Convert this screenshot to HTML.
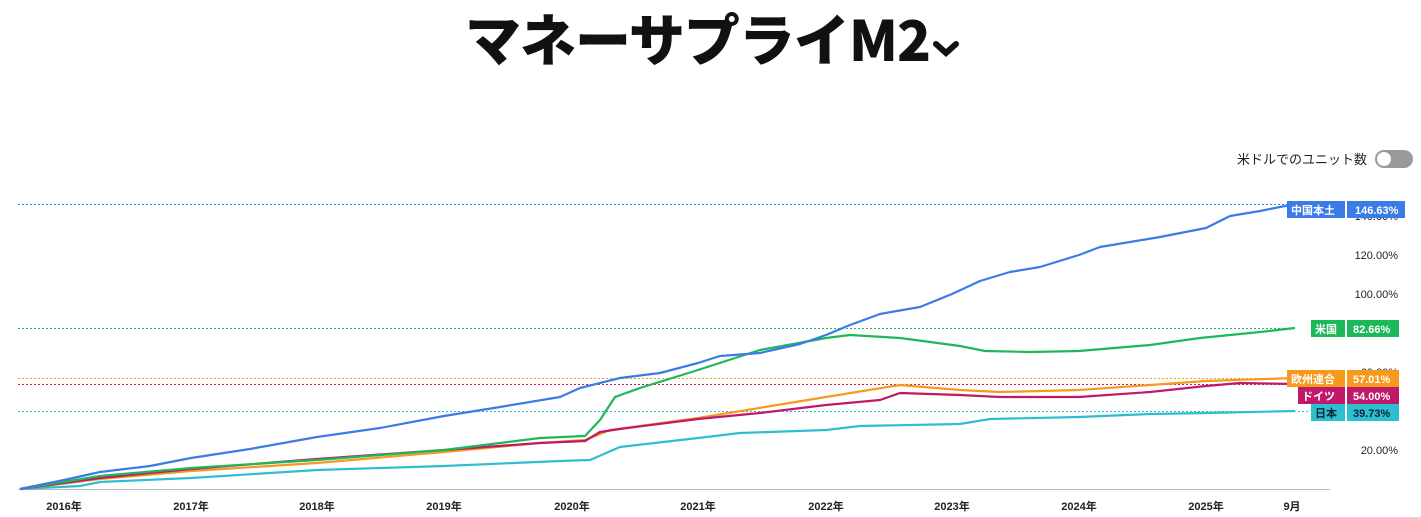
<!DOCTYPE html>
<html><head><meta charset="utf-8"><style>
body{margin:0;width:1421px;height:517px;background:#fff;overflow:hidden;font-family:"Liberation Sans","Noto Sans CJK JP",sans-serif;position:relative}
.t{position:absolute;left:465px;top:-3px;font-size:56px;font-weight:900;color:#111;font-family:"Noto Sans CJK JP",sans-serif;letter-spacing:-1px;white-space:nowrap}
</style></head><body>
<div class="t">マネーサプライM2<svg width="30" height="20" style="margin-left:2px;vertical-align:2px"><path d="M4 5 L14 14 L24 5" stroke="#111" stroke-width="6" fill="none" stroke-linecap="round"/></svg></div>
<svg width="1421" height="517" style="position:absolute;left:0;top:0" font-family="Liberation Sans, Noto Sans CJK JP, sans-serif">
<text x="1367" y="164" font-size="13" fill="#222" text-anchor="end">米ドルでのユニット数</text>
<rect x="1375" y="150" width="38" height="18" rx="9" fill="#999"/><circle cx="1384" cy="159" r="7" fill="#fff"/>
<g font-size="11" fill="#222" text-anchor="end">
<text x="1398" y="220">140.00%</text><text x="1398" y="259">120.00%</text><text x="1398" y="298">100.00%</text><text x="1398" y="337">80.00%</text><text x="1398" y="376">60.00%</text><text x="1398" y="454">20.00%</text>
</g>
<line x1="18" y1="489.5" x2="1330" y2="489.5" stroke="#bbb"/>
<g font-size="11" font-weight="bold" fill="#222" text-anchor="middle">
<text x="64" y="510">2016年</text><text x="191" y="510">2017年</text><text x="317" y="510">2018年</text><text x="444" y="510">2019年</text><text x="572" y="510">2020年</text><text x="698" y="510">2021年</text><text x="826" y="510">2022年</text><text x="952" y="510">2023年</text><text x="1079" y="510">2024年</text><text x="1206" y="510">2025年</text><text x="1292" y="510">9月</text>
</g>
<g stroke-dasharray="2,2" stroke-width="1">
<line x1="18" y1="204.5" x2="1290" y2="204.5" stroke="#3b7be6"/>
<line x1="18" y1="328.5" x2="1290" y2="328.5" stroke="#1cb85a"/>
<line x1="18" y1="378.5" x2="1290" y2="378.5" stroke="#f59a1c"/>
<line x1="18" y1="384.5" x2="1290" y2="384.5" stroke="#c0186a"/>
<line x1="18" y1="411.5" x2="1310" y2="411.5" stroke="#2bbfcf"/>
</g>
<g fill="none" stroke-width="2.2" stroke-linejoin="round">
<polyline stroke="#2bbfcf" points="20,489 80,486 100,482 191,478 317,470 444,466 560,461 590,460 620,447 698,438 740,433 826,430 860,426 960,424 990,419 1079,417 1150,414 1206,413 1295,411"/>
<polyline stroke="#f59a1c" points="20,489 100,479 191,471 317,463 444,452 540,443 585,440 610,430 698,418 826,397 900,385 960,390 1000,392 1079,390 1150,385 1206,381 1295,378"/>
<polyline stroke="#c0186a" points="20,489 100,478 191,469 317,459 444,450 540,443 585,441 600,432 620,429 698,419 760,413 826,405 880,400 900,393 960,395 1000,397 1079,397 1150,392 1206,386 1240,383 1295,384"/>
<polyline stroke="#1cb85a" points="20,489 100,476 191,468 317,460 444,450 540,438 585,436 600,420 615,397 640,388 698,370 760,350 826,338 850,335 900,338 960,346 985,351 1030,352 1079,351 1150,345 1200,338 1260,332 1295,328"/>
<polyline stroke="#3b7be6" points="20,489 64,480 100,472 150,466 191,458 250,449 317,437 380,428 444,416 500,407 560,397 580,388 620,378 660,373 698,363 720,356 760,353 800,344 826,335 850,325 880,314 920,307 952,294 980,281 1010,272 1040,267 1079,255 1100,247 1130,242 1160,237 1206,228 1230,216 1260,211 1295,204"/>
</g>
<g font-size="11" font-weight="bold" fill="#fff">
<rect x="1287" y="201" width="58" height="17" fill="#3b7be6"/><rect x="1347" y="201" width="58" height="17" fill="#3b7be6"/>
<text x="1291" y="214">中国本土</text><text x="1355" y="214">146.63%</text>
<rect x="1311" y="320" width="34" height="17" fill="#1cb85a"/><rect x="1347" y="320" width="52" height="17" fill="#1cb85a"/>
<text x="1315" y="333">米国</text><text x="1353" y="333">82.66%</text>
<rect x="1287" y="370" width="58" height="17" fill="#f59a1c"/><rect x="1347" y="370" width="52" height="17" fill="#f59a1c"/>
<text x="1291" y="383">欧州連合</text><text x="1353" y="383">57.01%</text>
<rect x="1298" y="387" width="47" height="17" fill="#c0186a"/><rect x="1347" y="387" width="52" height="17" fill="#c0186a"/>
<text x="1302" y="400">ドイツ</text><text x="1353" y="400">54.00%</text>
<rect x="1311" y="404" width="34" height="17" fill="#2bbfcf"/><rect x="1347" y="404" width="52" height="17" fill="#2bbfcf"/>
<text x="1315" y="417" fill="#123">日本</text><text x="1353" y="417" fill="#123">39.73%</text>
</g>
</svg>
</body></html>
